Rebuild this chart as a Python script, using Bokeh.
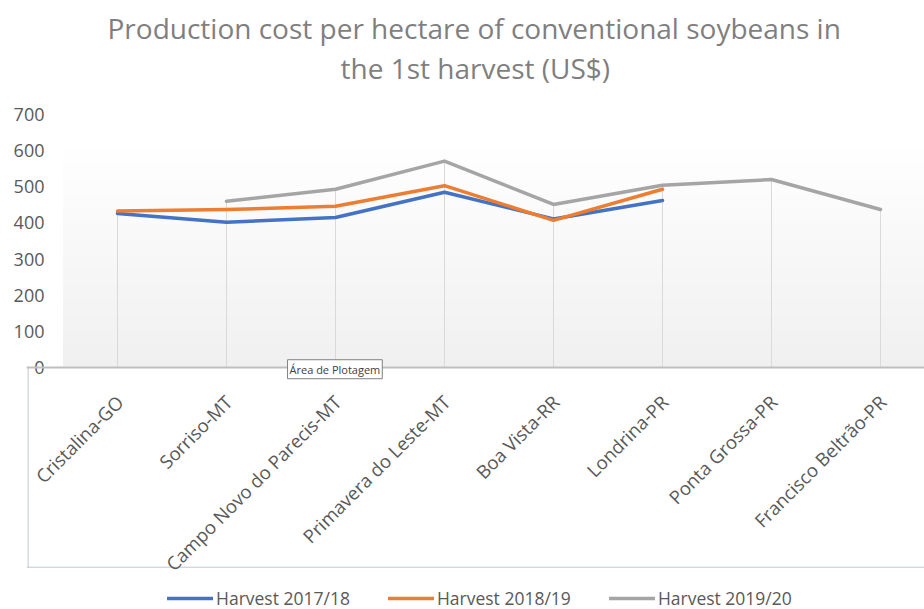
import numpy as np
from math import pi
from bokeh.plotting import figure
from bokeh.models import (Range1d, FixedTicker, Legend, LegendItem, Title,
                          ColumnDataSource, Span, Label, LabelSet)
from bokeh.core.properties import value
from bokeh.embed import file_html
from bokeh.resources import INLINE

# ---- data ----
categories = ["Cristalina-GO", "Sorriso-MT", "Campo Novo do Parecis-MT",
              "Primavera do Leste-MT", "Boa Vista-RR", "Londrina-PR",
              "Ponta Grossa-PR", "Francisco Beltrão-PR"]
harvest_2017_18 = [426, 402, 415, 485, 411, 462, None, None]
harvest_2018_19 = [433, 437, 446, 503, 407, 493, None, None]
harvest_2019_20 = [None, 460, 493, 571, 451, 504, 520, 437]
series_names = ["Harvest 2017/18", "Harvest 2018/19", "Harvest 2019/20"]
y_ticks = [0, 100, 200, 300, 400, 500, 600, 700]

colors = ["#4472C4", "#ED7D31", "#A5A5A5"]
FONT = "Open Sans"
TXT = "#595959"

idx = list(range(len(categories)))

# the frame reaches down to the bottom (and far left) so that the rotated category
# labels and the legend can be placed below the value axis (y = 0)
p = figure(width=924, height=609, output_backend="svg", toolbar_location=None,
           x_range=Range1d(-0.835, 7.404), y_range=Range1d(-670, 700),
           min_border_left=26, min_border_right=0, min_border_top=114,
           min_border_bottom=0, outline_line_color=None,
           background_fill_color="white", border_fill_color="white")

# gradient plot-area background (style only)
rows = 120
img = np.zeros((rows, 1), dtype=np.uint32)
view = img.view(dtype=np.uint8).reshape((rows, 1, 4))
for r in range(rows):
    t = r / (rows - 1)          # 0 bottom -> 1 top
    v = int(round(240 + (255 - 240) * t))
    view[r, 0, :] = [v, v, v, 255]
p.image_rgba(image=[img], x=-0.5, y=0, dw=8, dh=622, level="image")

# drop lines from the highest value of each category to the axis
def top(i):
    vals = [s[i] for s in (harvest_2017_18, harvest_2018_19, harvest_2019_20) if s[i] is not None]
    return max(vals)
drop_src = ColumnDataSource(dict(x=idx, y0=[0] * len(idx), y1=[top(i) for i in idx]))
p.segment(x0="x", y0="y0", x1="x", y1="y1", source=drop_src, line_color="#d9d9d9", line_width=1)

# category axis line
p.add_layout(Span(location=0, dimension="width", line_color="#bfbfbf", line_width=2))
# plot-area selection frame (as in the screenshot)
p.add_layout(Span(location=-553, dimension="width", line_color="#c3c7cc", line_width=1))
p.segment(x0=[-0.82], y0=[0], x1=[-0.82], y1=[-553], line_color="#c3c7cc", line_width=1)

renderers = []
for name, vals, col in zip(series_names, [harvest_2017_18, harvest_2018_19, harvest_2019_20], colors):
    xs = [i for i, v in zip(idx, vals) if v is not None]
    ys = [v for v in vals if v is not None]
    r = p.line(xs, ys, line_color=col, line_width=3.5, line_join="round", line_cap="round")
    renderers.append(r)

# rotated category labels
lab_src = ColumnDataSource(dict(x=idx, y=[0] * len(idx), text=categories))
p.add_layout(LabelSet(x="x", y="y", text="text", source=lab_src, angle=pi / 4,
                      text_align="right", text_baseline="middle", y_offset=-31, x_offset=2,
                      text_font=value(FONT), text_font_size="18.5px", text_color=TXT))

p.xgrid.visible = False
p.ygrid.visible = False
p.xaxis.visible = False

# y axis (labels pulled into the white margin left of the plot area)
ya = p.yaxis[0]
ya.ticker = FixedTicker(ticks=y_ticks)
ya.axis_line_color = None
ya.major_tick_line_color = None
ya.major_tick_out = 0
ya.major_tick_in = 0
ya.minor_tick_line_color = None
ya.minor_tick_out = 0
ya.major_label_text_font = FONT
ya.major_label_text_font_size = "18px"
ya.major_label_text_color = TXT
ya.major_label_standoff = -18

# tooltip visible in the screenshot
p.add_layout(Label(x=1.56, y=-5, text="Área de Plotagem", text_font=FONT,
                   text_font_size="11px", text_color="#404040", text_baseline="middle",
                   background_fill_color="white", border_line_color="#808080",
                   padding=2))

legend = Legend(items=[LegendItem(label=n, renderers=[r]) for n, r in zip(series_names, renderers)],
                orientation="horizontal", location=(141, -1),
                glyph_width=46, glyph_height=16, label_height=16, label_standoff=3, spacing=38,
                label_text_font=FONT, label_text_font_size="17.5px", label_text_color=TXT,
                border_line_color=None, background_fill_alpha=0, padding=0, margin=0)
p.add_layout(legend, "center")

# two-line chart title (a small blank title keeps the gap above the plot area)
spacer = Title(text=" ", text_font_size="10px", standoff=15)
t2 = Title(text="the 1st harvest (US$)", align="left", offset=314, text_font=FONT,
           text_font_size="28px", text_font_style="normal", text_color="#7f7f7f", standoff=0)
t1 = Title(text="Production cost per hectare of conventional soybeans in", align="left",
           offset=81, text_font=FONT, text_font_size="28px", text_font_style="normal",
           text_color="#7f7f7f", standoff=0)
p.add_layout(spacer, "above")
p.add_layout(t2, "above")
p.add_layout(t1, "above")

open("out.html", "w").write(file_html(p, INLINE))
